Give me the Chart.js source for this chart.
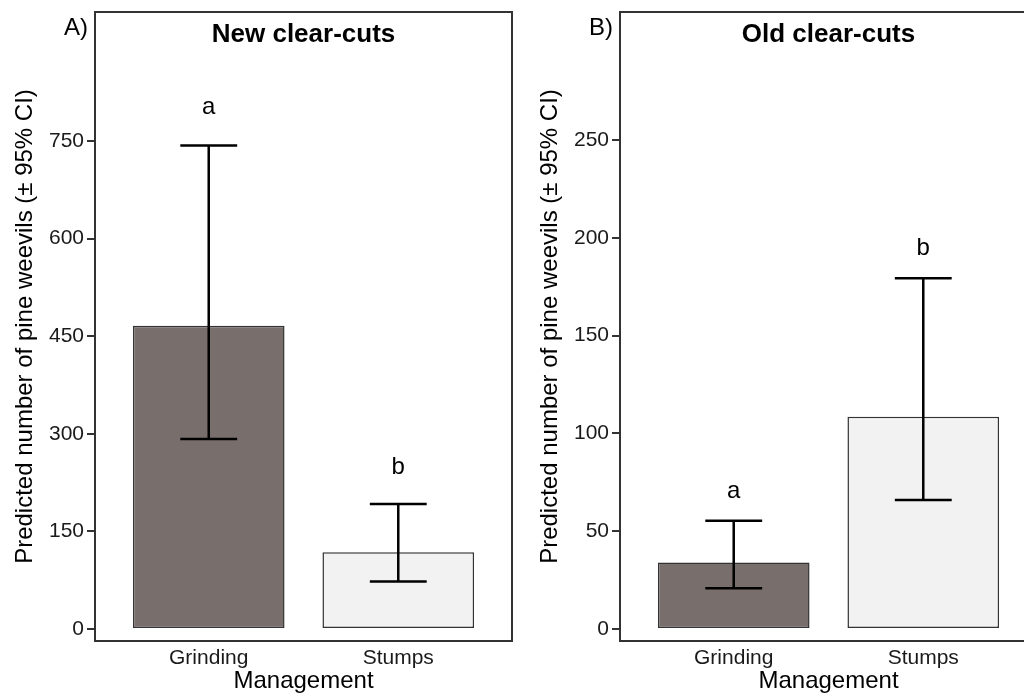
<!DOCTYPE html>
<html>
<head>
<meta charset="utf-8">
<script src="https://cdn.jsdelivr.net/npm/chart.js@4"></script>
<style>
  html, body { margin: 0; padding: 0; background: #fff; overflow: hidden; }
  body { width: 1024px; height: 693px; position: relative; }
  .panel { position: absolute; top: 0; width: 525px; height: 693px; }
</style>
</head>
<body>
<div class="panel" style="left:0"><canvas id="panelA" width="525" height="693"></canvas></div>
<div class="panel" style="left:525px"><canvas id="panelB" width="525" height="693"></canvas></div>
<script>
const categories = ['Grinding', 'Stumps'];

// A) new clear-cuts
const newMeans = [466, 118];
const newLower = [292, 73];
const newUpper = [743, 192];
const newLetters = ['a', 'b'];
const newLetterY = [801, 248];
const newTicks = [0, 150, 300, 450, 600, 750];

// B) old clear-cuts
const oldMeans = [34, 108.5];
const oldLower = [20.8, 66];
const oldUpper = [55.4, 179.3];
const oldLetters = ['a', 'b'];
const oldLetterY = [70.5, 194.6];
const oldTicks = [0, 50, 100, 150, 200, 250];

const fontFam = '"Liberation Sans", Arial, Helvetica, sans-serif';
const barColors = ['#786f6d', '#f2f2f2'];

const panelDecor = {
  id: 'panelDecor',
  afterDatasetsDraw(chart, args, opts) {
    const { ctx, chartArea: a } = chart;
    const x = chart.scales.x, y = chart.scales.y;
    ctx.save();

    // error bars
    ctx.strokeStyle = '#000';
    ctx.lineWidth = 2.5;
    opts.lower.forEach((lo, i) => {
      const px = x.getPixelForValue(i + 1);
      const half = x.getPixelForValue(i + 1.15) - px;
      const yLo = y.getPixelForValue(lo);
      const yHi = y.getPixelForValue(opts.upper[i]);
      ctx.beginPath();
      ctx.moveTo(px, yLo); ctx.lineTo(px, yHi);
      ctx.moveTo(px - half, yLo); ctx.lineTo(px + half, yLo);
      ctx.moveTo(px - half, yHi); ctx.lineTo(px + half, yHi);
      ctx.stroke();
    });

    // significance letters
    ctx.fillStyle = '#000';
    ctx.font = '24px ' + fontFam;
    ctx.textAlign = 'center';
    ctx.textBaseline = 'middle';
    opts.letters.forEach((t, i) => {
      ctx.fillText(t, x.getPixelForValue(i + 1), y.getPixelForValue(opts.letterY[i]));
    });

    // frame
    ctx.strokeStyle = '#333';
    ctx.lineWidth = 2;
    ctx.strokeRect(a.left, a.top, a.right - a.left, a.bottom - a.top);

    // panel title inside frame
    ctx.font = 'bold 26px ' + fontFam;
    ctx.textBaseline = 'alphabetic';
    ctx.fillText(opts.title, (a.left + a.right) / 2, 42);

    // panel tag
    ctx.font = '24px ' + fontFam;
    ctx.textAlign = 'right';
    ctx.fillText(opts.tag, 88, 35);
    ctx.restore();
  }
};

function makePanel(id, means, lower, upper, letters, letterY, ticks, yMin, yMax, title, tag) {
  return new Chart(document.getElementById(id), {
    type: 'bar',
    data: {
      datasets: [{
        data: means.map((m, i) => ({ x: i + 1, y: m })),
        backgroundColor: barColors,
        borderColor: '#333',
        borderWidth: 1.5,
        borderSkipped: false,
        categoryPercentage: 1,
        barPercentage: 0.8
      }]
    },
    options: {
      responsive: false,
      animation: false,
      devicePixelRatio: 1,
      layout: { padding: { left: 0, right: 13, top: 12, bottom: 0 } },
      plugins: {
        legend: { display: false },
        tooltip: { enabled: false },
        panelDecor: { lower, upper, letters, letterY, title, tag }
      },
      scales: {
        x: {
          type: 'linear',
          min: 0.4,
          max: 2.6,
          offset: false,
          grid: { display: false, drawTicks: false },
          border: { display: false },
          afterBuildTicks: s => { s.ticks = categories.map((c, i) => ({ value: i + 1 })); },
          afterFit: s => { s.height = 52; s.paddingLeft = 0; s.paddingRight = 0; },
          ticks: {
            padding: 5,
            color: '#1a1a1a',
            font: { family: fontFam, size: 21 },
            maxRotation: 0,
            callback: v => categories[v - 1] || ''
          },
          title: {
            display: true,
            text: 'Management',
            color: '#000',
            font: { family: fontFam, size: 24, lineHeight: 1 },
            padding: { top: 0, bottom: 0 }
          }
        },
        y: {
          min: yMin,
          max: yMax,
          grid: { drawOnChartArea: false, tickLength: 8, color: '#333', lineWidth: 2 },
          border: { display: false },
          afterBuildTicks: s => { s.ticks = ticks.map(v => ({ value: v })); },
          afterFit: s => { s.width = 95; s.paddingTop = 0; s.paddingBottom = 0; },
          ticks: {
            padding: 3,
            color: '#1a1a1a',
            font: { family: fontFam, size: 21 }
          },
          title: {
            display: true,
            text: 'Predicted number of pine weevils (± 95% CI)',
            color: '#000',
            font: { family: fontFam, size: 24 },
            padding: { top: 11, bottom: 0 }
          }
        }
      }
    },
    plugins: [panelDecor]
  });
}

makePanel('panelA', newMeans, newLower, newUpper, newLetters, newLetterY, newTicks, -18.4, 948, 'New clear-cuts', 'A)');
makePanel('panelB', oldMeans, oldLower, oldUpper, oldLetters, oldLetterY, oldTicks, -6.1, 315.4, 'Old clear-cuts', 'B)');
</script>
</body>
</html>
